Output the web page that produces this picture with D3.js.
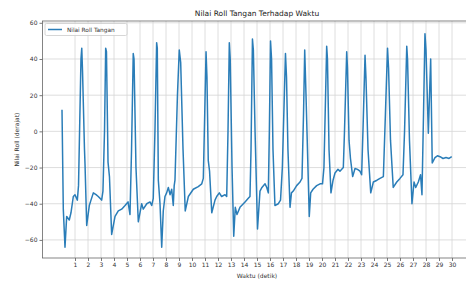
<!DOCTYPE html>
<html><head><meta charset="utf-8">
<script src="https://cdn.jsdelivr.net/npm/d3@7"></script>
<style>html,body{margin:0;padding:0;background:#fff;}svg{display:block;font-family:"DejaVu Sans",sans-serif;}</style>
</head><body><svg id="c" width="466" height="285"></svg>
<script>
const title = "Nilai Roll Tangan Terhadap Waktu";
const xLabel = "Waktu (detik)";
const yLabel = "Nilai Roll (derajat)";
const seriesName = "Nilai Roll Tangan";
const xTicks = [1,2,3,4,5,6,7,8,9,10,11,12,13,14,15,16,17,18,19,20,21,22,23,24,25,26,27,28,29,30];
const yTicks = [-60,-40,-20,0,20,40,60];
const time = [0.00,0.10,0.23,0.36,0.56,0.69,0.87,1.00,1.18,1.27,1.46,1.52,1.58,1.73,1.77,1.90,2.10,2.23,2.41,2.62,2.79,3.05,3.15,3.27,3.36,3.42,3.54,3.65,3.82,4.08,4.33,4.59,4.85,5.08,5.23,5.35,5.48,5.54,5.69,5.87,6.13,6.25,6.52,6.77,6.90,7.02,7.15,7.28,7.33,7.41,7.54,7.67,7.79,7.92,8.05,8.18,8.31,8.44,8.56,8.63,8.69,8.88,9.02,9.13,9.31,9.48,9.72,10.10,10.48,10.75,10.87,10.98,11.08,11.15,11.25,11.35,11.52,11.77,11.90,12.10,12.28,12.54,12.67,12.77,12.87,12.94,13.08,13.21,13.33,13.46,13.69,14.08,14.33,14.46,14.54,14.65,14.72,14.85,15.04,15.23,15.38,15.62,15.75,15.87,15.95,16.04,16.12,16.23,16.38,16.64,16.81,16.95,17.19,17.27,17.38,17.54,17.65,17.79,18.05,18.31,18.46,18.58,18.67,18.77,19.02,19.13,19.31,19.59,19.85,20.04,20.15,20.36,20.42,20.54,20.69,20.85,21.00,21.23,21.38,21.64,21.73,21.90,21.96,22.08,22.19,22.36,22.54,22.73,22.92,23.05,23.15,23.31,23.38,23.54,23.75,23.95,24.23,24.46,24.72,24.88,25.04,25.12,25.27,25.48,25.75,26.00,26.23,26.35,26.52,26.58,26.73,26.92,27.08,27.21,27.41,27.58,27.69,27.81,27.92,28.00,28.18,28.27,28.36,28.48,28.69,28.88,29.08,29.31,29.54,29.77,29.98];
const roll = [12,-43,-64,-47,-49,-45,-36,-35,-38,-30,40,46,33,-10,-18,-52,-41,-38,-34,-35,-36,-38,-33,0,46,44,-17,-25,-57,-47,-44,-43,-41,-39,-46,-10,43,40,-20,-50,-40,-43,-40,-39,-41,-37,0,49,46,-27,-40,-64,-44,-36,-34,-31,-35,-32,-41,-30,-27,20,45,38,-10,-44,-36,-32,-30.5,-29,-26,10,44,30,-16,-22,-45,-38,-36,-34,-36,-35,-36,0,49,40,-20,-58,-42,-46,-42,-39,-37,-36,-10,51,45,0,-54,-33,-31,-29,-31,-34,0,50,40,-10,-41,-40,-38,-20,43,30,-10,-42,-34,-33,-30,-28,-26,10,45,20,-47,-34,-32,-30,-29,-29,-20,47,40,-10,-34,-27,-23,-21,-22,-20,0,44,35,-5,-15,-25,-20.5,-21,-22,-24,0,42,30,-10,-34,-28,-27,-26,-25,10,46,35,-5,-31,-28,-26,-24,0,47,40,-5,-40,-28,-31,-28,-24,-35,10,54,45,-1,20,40,-17.5,-14.5,-13.5,-14,-15,-14.5,-15,-14];

const W = 466, H = 285;
const m = {left: 42.5, right: 471.5, top: 21, bottom: 258};
const svg = d3.select("#c");
const x = d3.scaleLinear().domain([-1.5, 31.5]).range([m.left, m.right]);
const y = d3.scaleLinear().domain([-70, 61]).range([m.bottom, m.top]);

const clipId = "plotclip";
svg.append("defs").append("clipPath").attr("id", clipId)
  .append("rect").attr("x", m.left).attr("y", m.top).attr("width", m.right - m.left).attr("height", m.bottom - m.top);

// grid
const g = svg.append("g");
g.selectAll("line.vg").data(xTicks).join("line")
  .attr("x1", d => x(d)).attr("x2", d => x(d)).attr("y1", m.top).attr("y2", m.bottom)
  .attr("stroke", "#d6d6d6").attr("stroke-width", 0.8);
g.selectAll("line.hg").data(yTicks).join("line")
  .attr("y1", d => y(d)).attr("y2", d => y(d)).attr("x1", m.left).attr("x2", m.right)
  .attr("stroke", "#d6d6d6").attr("stroke-width", 0.8);

// axes
const xAxis = d3.axisBottom(x).tickValues(xTicks).tickSize(3).tickPadding(2).tickFormat(d3.format("d"));
const yAxis = d3.axisLeft(y).tickValues(yTicks).tickSize(3).tickPadding(2).tickFormat(d3.format("d"));
const gx = svg.append("g").attr("transform", `translate(0,${m.bottom})`).call(xAxis);
const gy = svg.append("g").attr("transform", `translate(${m.left},0)`).call(yAxis);
[gx, gy].forEach(a => {
  a.select(".domain").remove();
  a.selectAll(".tick line").attr("stroke", "#555").attr("stroke-width", 0.8);
  a.selectAll(".tick text").attr("fill", "#333").style("font-size", "6px").style("font-family", "DejaVu Sans");
});
gy.selectAll(".tick text").text(d => d < 0 ? "\u2212" + Math.abs(d) : d);

// spines
svg.append("rect").attr("x", m.left).attr("y", m.top).attr("width", m.right - m.left).attr("height", m.bottom - m.top)
  .attr("fill", "none").attr("stroke", "#666").attr("stroke-width", 0.8);

// line
const data = time.map((t, i) => [t, roll[i]]);
svg.append("path").datum(data)
  .attr("clip-path", `url(#${clipId})`)
  .attr("fill", "none").attr("stroke", "#2a7db8").attr("stroke-width", 1.5).attr("stroke-linejoin", "round")
  .attr("d", d3.line().x(d => x(d[0])).y(d => y(d[1])));

// title & labels
svg.append("text").attr("x", (m.left + m.right) / 2).attr("y", 16).attr("text-anchor", "middle")
  .style("font-size", "7.5px").attr("fill", "#222").text(title);
svg.append("text").attr("x", (m.left + m.right) / 2).attr("y", 278).attr("text-anchor", "middle")
  .style("font-size", "6px").attr("fill", "#333").text(xLabel);
svg.append("text").attr("transform", `translate(19,${(m.top + m.bottom) / 2}) rotate(-90)`).attr("text-anchor", "middle")
  .style("font-size", "6px").attr("fill", "#333").text(yLabel);

// legend
const lg = svg.append("g");
lg.append("rect").attr("x", 45).attr("y", 23.5).attr("width", 82).attr("height", 12).attr("rx", 1.5)
  .attr("fill", "#fff").attr("fill-opacity", 0.8).attr("stroke", "#ccc").attr("stroke-width", 0.8);
lg.append("line").attr("x1", 48).attr("x2", 62).attr("y1", 29.5).attr("y2", 29.5)
  .attr("stroke", "#2a7db8").attr("stroke-width", 1.5);
lg.append("text").attr("x", 67).attr("y", 31.6).style("font-size", "5.8px").attr("fill", "#333").text(seriesName);
</script></body></html>
